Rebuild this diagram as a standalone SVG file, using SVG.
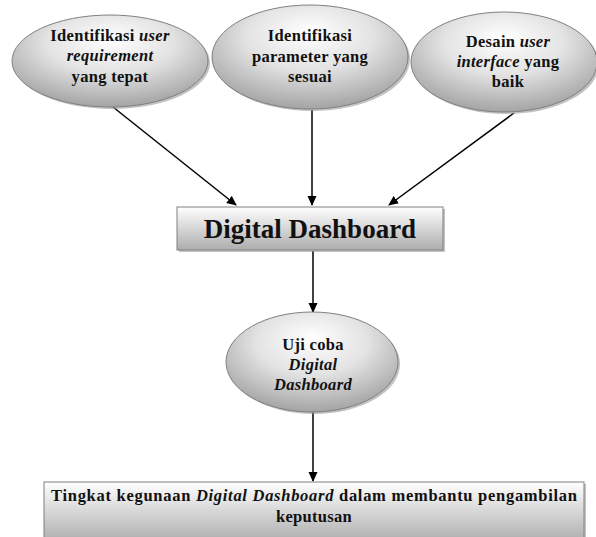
<svg xmlns="http://www.w3.org/2000/svg" width="596" height="537" viewBox="0 0 596 537">
<defs>
<radialGradient id="gEll" cx="50%" cy="35%" r="65%" fx="50%" fy="25%">
<stop offset="0" stop-color="#ffffff"/>
<stop offset="0.5" stop-color="#e3e3e3"/>
<stop offset="1" stop-color="#a4a4a4"/>
</radialGradient>
<linearGradient id="gBox" x1="0" y1="0" x2="0" y2="1">
<stop offset="0" stop-color="#ffffff"/>
<stop offset="1" stop-color="#adadad"/>
</linearGradient>
<marker id="arr" markerWidth="10" markerHeight="10" refX="9" refY="5" orient="auto" markerUnits="userSpaceOnUse">
<path d="M0,0.5 L10,5 L0,9.5 Z" fill="#000"/>
</marker>
</defs>
<style>
.ell{fill:url(#gEll);stroke:#808080;stroke-width:1}
.box{fill:url(#gBox);stroke:#808080;stroke-width:1}
.sh{fill:#9a9a9a;opacity:0.6}
.t{font-family:"Liberation Serif","Times New Roman",serif;font-weight:bold;font-size:16.5px;letter-spacing:0.3px;fill:#111;text-anchor:middle}
.i{font-style:italic}
.con{stroke:#000;stroke-width:1.5;fill:none;marker-end:url(#arr)}
</style>
<rect width="596" height="537" fill="#fff"/>
<g id="connectors">
<line class="con" x1="113" y1="107" x2="236" y2="205"/>
<line class="con" x1="312" y1="110" x2="312" y2="205"/>
<line class="con" x1="514" y1="113" x2="389" y2="205"/>
<line class="con" x1="313" y1="251" x2="313" y2="312"/>
<line class="con" x1="313" y1="412" x2="313" y2="481"/>
</g>
<g id="n1">
<ellipse class="sh" cx="112" cy="63" rx="98" ry="46"/>
<ellipse class="ell" cx="110" cy="61" rx="98" ry="46"/>
<text class="t" x="110" y="41">Identifikasi <tspan class="i">user</tspan></text>
<text class="t i" x="110" y="61">requirement</text>
<text class="t" x="110" y="82">yang tepat</text>
</g>
<g id="n2">
<ellipse class="sh" cx="312" cy="59" rx="98" ry="52"/>
<ellipse class="ell" cx="310" cy="57" rx="98" ry="52"/>
<text class="t" x="310" y="41">Identifikasi</text>
<text class="t" x="310" y="62">parameter yang</text>
<text class="t" x="310" y="82">sesuai</text>
</g>
<g id="n3">
<ellipse class="sh" cx="506" cy="64" rx="93" ry="50"/>
<ellipse class="ell" cx="504" cy="62" rx="93" ry="50"/>
<text class="t" x="508" y="47">Desain <tspan class="i">user</tspan></text>
<text class="t" x="508" y="67"><tspan class="i">interface</tspan> yang</text>
<text class="t" x="508" y="87">baik</text>
</g>
<g id="n4">
<rect class="sh" x="179" y="209" width="266" height="43"/>
<rect class="box" x="177" y="207" width="266" height="43"/>
<text class="t" x="310" y="238" style="font-size:27px;letter-spacing:0">Digital Dashboard</text>
</g>
<g id="n5">
<ellipse class="sh" cx="314" cy="364" rx="86" ry="50"/>
<ellipse class="ell" cx="312" cy="362" rx="86" ry="50"/>
<text class="t" x="313" y="350">Uji coba</text>
<text class="t i" x="313" y="370">Digital</text>
<text class="t i" x="313" y="390">Dashboard</text>
</g>
<g id="n6">
<rect class="sh" x="46" y="484" width="540" height="60"/>
<rect class="box" x="44" y="482" width="540" height="60"/>
<text class="t" x="314" y="501" style="font-size:16.5px;letter-spacing:0" textLength="526" lengthAdjust="spacing">Tingkat kegunaan <tspan class="i">Digital Dashboard</tspan> dalam membantu pengambilan</text>
<text class="t" x="314" y="522" style="font-size:16.5px">keputusan</text>
</g>
</svg>
